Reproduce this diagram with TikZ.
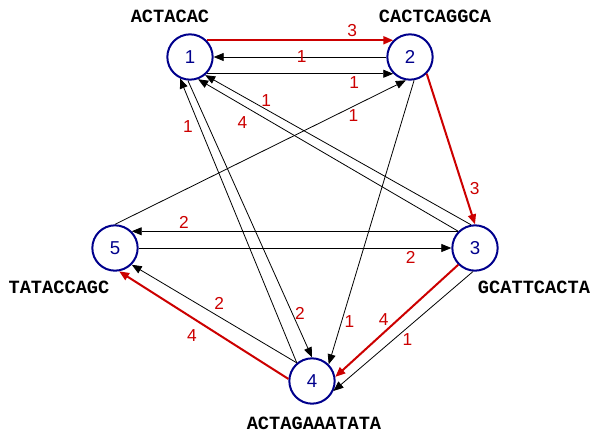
\documentclass[tikz,border=0pt]{standalone}
\usepackage{fontspec}
\setmainfont{Liberation Sans}
\newfontfamily\seqfont{Liberation Mono}
\usetikzlibrary{arrows.meta}
\definecolor{nodeblue}{RGB}{0,0,140}
\definecolor{edgered}{RGB}{204,0,0}
\tikzset{
  vertex/.style={circle,draw=nodeblue,line width=1.5pt,minimum size=34pt,inner sep=0pt,
    text=nodeblue,font=\fontsize{14}{16}\selectfont},
  seq/.style={font=\seqfont\bfseries\fontsize{14}{16}\selectfont},
  edge/.style={-{Triangle[length=7.5pt,width=6pt]},line width=.6pt},
  hot/.style={edge,draw=edgered,fill=edgered,line width=1.5pt},
  wt/.style={text=edgered,inner sep=2pt,font=\fontsize{13}{15}\selectfont}
}
\begin{document}
\begin{tikzpicture}[x=.75pt,y=-.75pt]
\useasboundingbox (0,0) rectangle (594,433);
% vertices and their strings
\node[vertex] (n1) at (190,57) {1};
\node[vertex] (n2) at (410,57) {2};
\node[vertex] (n3) at (475,248) {3};
\node[vertex] (n4) at (312,381) {4};
\node[vertex] (n5) at (115,248) {5};
\node[seq] (s1) at (170,16) {ACTACAC};
\node[seq] (s2) at (435,16) {CACTCAGGCA};
\node[seq] (s3) at (534,287) {GCATTCACTA};
\node[seq] (s4) at (314,423) {ACTAGAAATATA};
\node[seq] (s5) at (59,287) {TATACCAGC};

% red path
\draw[hot](n1.45)--node[wt,pos=.78,above](w12a){3}(n2.135);
\draw[hot](n2.-45)--node[wt,pos=.76,right,xshift=2pt](w23){3}(n3.90);
\draw[hot](n3.-135)--node[wt,pos=.57,above left,xshift=3pt](w34a){4}(n4.10);
\draw[hot](n4.175)--node[wt,pos=.57,below=6pt](w45a){4}(n5.-80);

% other overlaps
\draw[edge](n2.180)--node[wt,pos=.49](w21){1}(n1.0);
\draw[edge](n1.-45)--node[wt,pos=.79,below](w12b){1}(n2.-135);
\draw[edge](n3.100)--node[wt,pos=.77,above](w31a){1}(n1.-50);
\draw[edge](n3.135)--node[wt,pos=.83,below=6pt](w31b){4}(n1.-70);
\draw[edge](n5.90)--node[wt,pos=.82,below](w52){1}(n2.-100);
\draw[edge](n4.130)--node[wt,pos=.83,left,xshift=-3pt](w41){1}(n1.-115);
\draw[edge](n1.-95)--node[wt,pos=.84,right](w14){2}(n4.90);
\draw[edge](n2.-80)--node[wt,pos=.85,right](w24){1}(n4.45);
\draw[edge](n3.135)--node[wt,pos=.84,above](w35){2}(n5.45);
\draw[edge](n5.0)--node[wt,pos=.87,below](w53){2}(n3.180);
\draw[edge](n3.-95)--node[wt,pos=.47,below=2pt](w34b){1}(n4.-25);
\draw[edge](n4.130)--node[wt,pos=.47,above=3pt](w45b){2}(n5.-45);
\end{tikzpicture}
\end{document}
